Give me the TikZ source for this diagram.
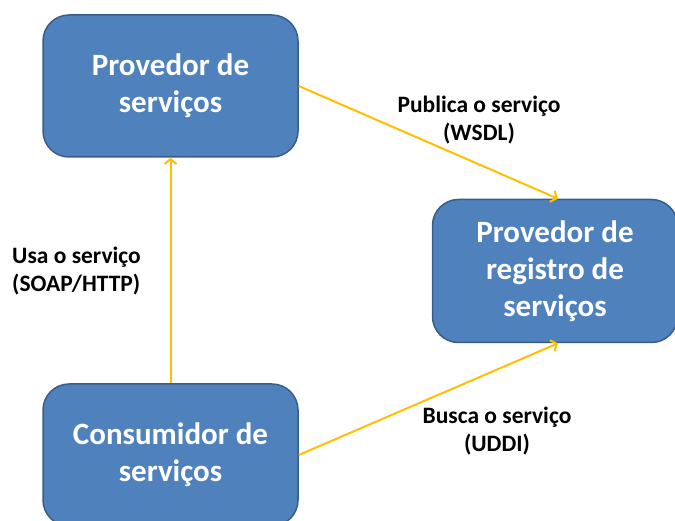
\documentclass[tikz,border=0pt]{standalone}
\usepackage{fontspec}
\setmainfont{Carlito}
\usetikzlibrary{arrows.meta}
\definecolor{boxfill}{HTML}{4F81BD}
\definecolor{boxline}{HTML}{385D8A}
\definecolor{arrcol}{HTML}{FFC000}
\begin{document}
\begin{tikzpicture}[x=1pt,y=-1pt,
  svcbox/.style={draw=boxline, line width=1.5pt, fill=boxfill, rounded corners=26pt,
    text=white, font=\bfseries\fontsize{31}{37}\selectfont, align=center, inner sep=0pt},
  flow/.style={draw=arrcol, line width=2pt, -{Straight Barb[length=5pt,width=12pt,line width=2pt]}},
  lbl/.style={font=\bfseries\fontsize{23.5}{28}\selectfont, inner sep=0pt}]
\useasboundingbox (0,0) rectangle (675,521);
\node[svcbox, minimum width=255pt, minimum height=142pt] (prov) at (170.5,86) {Provedor de\\serviços};
\node[svcbox, minimum width=245pt, minimum height=143pt] (reg) at (555,271) {Provedor de\\registro de\\serviços};
\node[svcbox, minimum width=255pt, minimum height=142pt] (cons) at (170.5,455) {Consumidor de\\serviços};
\draw[flow] (prov.east) -- ([xshift=3pt]reg.north);
\draw[flow] (cons.east) -- ([xshift=3pt]reg.south);
\draw[flow] (cons.north) -- (prov.south);
\node[lbl, align=center] (l1) at (479,120) {Publica o serviço\\(WSDL)};
\node[lbl, align=center] (l2) at (497,431) {Busca o serviço\\(UDDI)};
\node[lbl, align=left, anchor=west] (l3) at (12,271) {Usa o serviço\\(SOAP/HTTP)};
\end{tikzpicture}
\end{document}
